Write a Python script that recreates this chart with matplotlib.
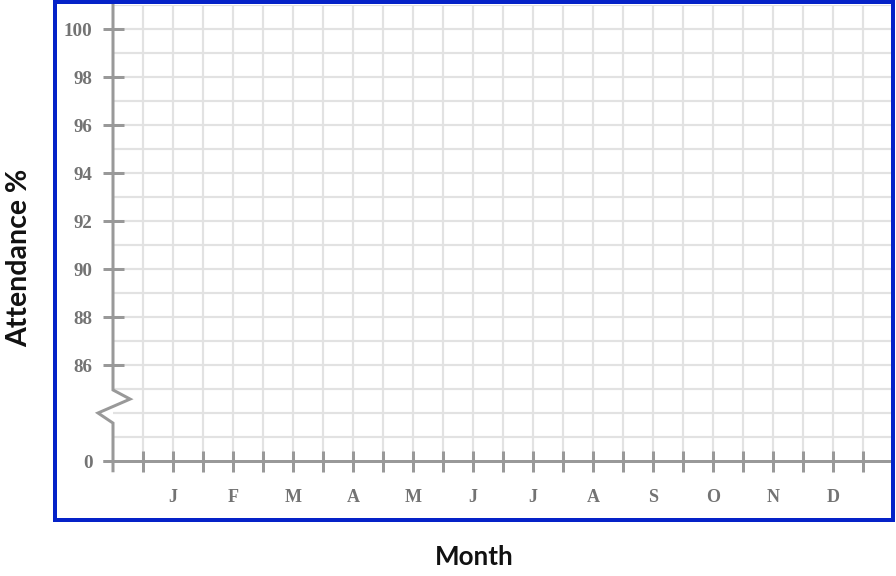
import matplotlib
matplotlib.use("Agg")
import matplotlib.pyplot as plt
from matplotlib.patches import Rectangle

# ---- data (tick labels / categories) ----
y_values = [0, 86, 88, 90, 92, 94, 96, 98, 100]
month_labels = ["J", "F", "M", "A", "M", "J", "J", "A", "S", "O", "N", "D"]
x_title = "Month"
y_title = "Attendance %"

AX = "#999999"
GRID = "#e2e2e2"
LBL = "#737373"
BLUE = "#0522c8"

fig = plt.figure(figsize=(8.96, 5.76), dpi=100)
W, H = 896, 576

# axes: x unit = 30px (half-month), y unit = 24px (1 %)
x0, y0 = 113, 461
ax = fig.add_axes([x0 / W, (H - y0) / H, 780 / W, (19 * 24) / H])
ax.set_xlim(0, 26)
ax.set_ylim(0, 19)

def ypos(v):
    # broken axis: 0 at the bottom, 86..100 mapped to 4..18
    return 0 if v == 0 else v - 82

px = 72 / 100

# grid
ax.vlines(range(1, 26), 0, 19, color=GRID, linewidth=2.2 * px, zorder=0)
ax.hlines(range(1, 20), 0, 26, color=GRID, linewidth=2.2 * px, zorder=0)
for s in ax.spines.values():
    s.set_visible(False)

# major ticks and labels
xt = list(range(1, 26))
xl = []
for k in xt:
    xl.append(month_labels[k // 2 - 1] if k % 2 == 0 else "")
ax.set_xticks(xt, xl)
ax.set_yticks([ypos(v) for v in y_values], [str(v) for v in y_values])

ax.tick_params(axis="both", which="major", direction="inout", color=AX,
               width=3 * px, length=21 * px)
ax.tick_params(axis="y", which="major", pad=10 * px, labelcolor=LBL)
ax.tick_params(axis="x", which="major", pad=18 * px, labelcolor=LBL)
for lab in ax.get_yticklabels():
    lab.set_fontfamily("Liberation Serif")
    lab.set_fontweight("bold")
    lab.set_fontsize(19 * px)
for lab in ax.get_xticklabels():
    lab.set_fontfamily("Liberation Serif")
    lab.set_fontweight("bold")
    lab.set_fontsize(18 * px)

# axis lines (y axis with zigzag break)
ax.plot([0, 0, 0.57, -0.5, 0, 0], [19.2, 2.96, 2.58, 2.0, 1.58, -0.47],
        color=AX, lw=3 * px, clip_on=False, zorder=5, solid_joinstyle="miter",
        solid_capstyle="butt")
ax.plot([-0.33, 26], [0, 0], color=AX, lw=3 * px, clip_on=False, zorder=5,
        solid_capstyle="butt")

# titles
fig.text(19 / W, 1 - 258 / H, y_title, rotation=90, ha="center", va="center",
         fontfamily="Lato", fontweight="bold", fontsize=28.5 * px, color="#111111")
fig.text(474 / W, 1 - 557 / H, x_title, ha="center", va="center",
         fontfamily="Lato", fontweight="bold", fontsize=26 * px, color="#111111")

# blue frame
fig.patches.append(Rectangle((55 / W, 1 - 520 / H), (893 - 55) / W, (520 - 2) / H,
                             transform=fig.transFigure, fill=False,
                             edgecolor=BLUE, linewidth=4 * px, zorder=10))

fig.savefig("out.png", dpi=100)
